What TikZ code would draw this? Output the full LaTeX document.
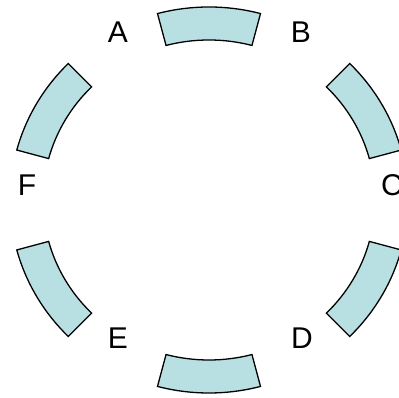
\documentclass[tikz,border=0pt]{standalone}
\usepackage{fontspec}
\setmainfont{Liberation Sans}
\definecolor{segfill}{RGB}{184,223,226}
\tikzset{
  seg/.style={draw=black, fill=segfill, line width=1.3pt, line join=miter},
  lab/.style={inner sep=0pt, font=\fontsize{30}{36}\selectfont}
}
\newcommand{\ringseg}[2]{%
  \path[seg] (#1:199pt and 193pt) arc[start angle=#1, end angle=#2, x radius=199pt, y radius=193pt]
    -- (#2:166pt and 160pt) arc[start angle=#2, end angle=#1, x radius=166pt, y radius=160pt] -- cycle;}
\begin{document}
\begin{tikzpicture}[x=1pt,y=1pt]
\useasboundingbox (0,0) rectangle (399,398);
\begin{scope}[shift={(209,198)}]
  \ringseg{75}{105}
  \ringseg{15}{45}
  \ringseg{-45}{-15}
  \ringseg{255}{285}
  \ringseg{195}{225}
  \ringseg{135}{165}
\end{scope}
\node[lab] (A) at (118,366) {A};
\node[lab] (B) at (301,366) {B};
\node[lab] (C) at (392,213) {C};
\node[lab] (D) at (302,60) {D};
\node[lab] (E) at (118,60) {E};
\node[lab] (F) at (27,213) {F};
\end{tikzpicture}
\end{document}
